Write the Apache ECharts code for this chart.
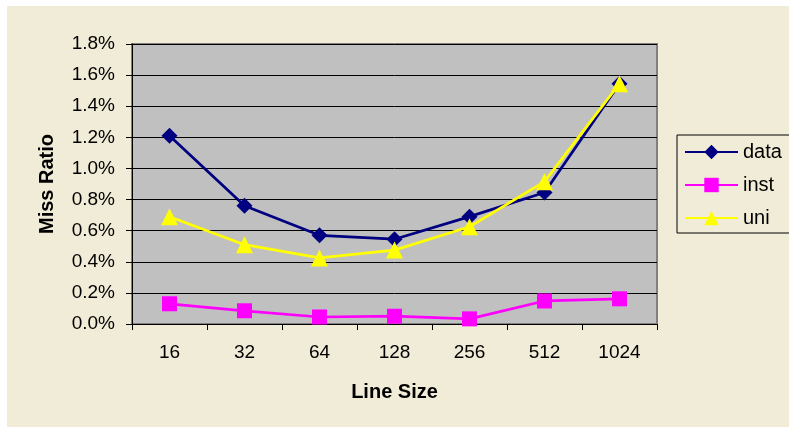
<!DOCTYPE html>
<html>
<head>
<meta charset="utf-8">
<script src="https://cdn.jsdelivr.net/npm/echarts@6/dist/echarts.min.js"></script>
<style>
  html, body { margin: 0; padding: 0; background: #ffffff; overflow: hidden; }
  #chart { position: absolute; left: 7px; top: 6px; width: 782px; height: 421px; }
</style>
</head>
<body>
<div id="chart"></div>
<script>
// Line sizes (bytes) on the x axis
const lineSizes = ['16', '32', '64', '128', '256', '512', '1024'];
// Miss ratios in percent
const dataMiss = [1.21, 0.76, 0.57, 0.545, 0.69, 0.845, 1.545];
const instMiss = [0.13, 0.085, 0.045, 0.05, 0.033, 0.148, 0.162];
const uniMiss  = [0.69, 0.51, 0.425, 0.475, 0.625, 0.915, 1.545];
// Y tick range
const yMin = 0, yMax = 1.8, yStep = 0.2;

const font = 'Liberation Sans, Arial, sans-serif';
const chart = echarts.init(document.getElementById('chart'));

function seriesOf(name, values, color, symbol, size) {
  return {
    name: name,
    type: 'line',
    data: values,
    symbol: symbol,
    symbolSize: size,
    showSymbol: true,
    lineStyle: { color: color, width: 2.75 },
    itemStyle: { color: color },
    emphasis: { disabled: true },
    animation: false
  };
}

chart.setOption({
  backgroundColor: '#F1ECD7',
  textStyle: { fontFamily: font },
  grid: {
    left: 125, top: 38, width: 525, height: 280,
    show: true, backgroundColor: '#C0C0C0',
    borderColor: '#808080', borderWidth: 2
  },
  legend: {
    orient: 'vertical',
    left: 670, top: 129,
    padding: [7, 30, 5, 7],
    itemWidth: 53, itemHeight: 18, itemGap: 13,
    borderColor: '#000000', borderWidth: 1,
    textStyle: { fontSize: 20, color: '#000000', fontFamily: font },
    data: ['data', 'inst', 'uni']
  },
  xAxis: {
    type: 'category',
    data: lineSizes,
    boundaryGap: true,
    name: 'Line Size',
    nameLocation: 'middle',
    nameGap: 58,
    nameTextStyle: { fontSize: 20, fontWeight: 'bold', color: '#000000', fontFamily: font },
    axisLine: { lineStyle: { color: '#000000', width: 1 } },
    axisTick: { show: true, length: 6, lineStyle: { color: '#000000' } },
    axisLabel: { fontSize: 19, color: '#000000', margin: 19, fontFamily: font },
    splitLine: { show: false }
  },
  yAxis: {
    type: 'value',
    min: yMin, max: yMax, interval: yStep,
    name: 'Miss Ratio',
    nameLocation: 'middle',
    nameGap: 75,
    nameRotate: 90,
    nameTextStyle: { fontSize: 20, fontWeight: 'bold', color: '#000000', fontFamily: font },
    axisLine: { show: true, lineStyle: { color: '#000000', width: 1 } },
    axisTick: { show: true, length: 6, lineStyle: { color: '#000000' } },
    axisLabel: {
      fontSize: 19, color: '#000000', margin: 17, fontFamily: font,
      formatter: v => v.toFixed(1) + '%'
    },
    splitLine: { show: true, lineStyle: { color: '#000000', width: 1 } }
  },
  series: [
    seriesOf('data', dataMiss, '#000080', 'diamond', 16),
    seriesOf('inst', instMiss, '#FF00FF', 'rect', 15),
    seriesOf('uni', uniMiss, '#FFFF00', 'triangle', 17)
  ]
});
</script>
</body>
</html>
